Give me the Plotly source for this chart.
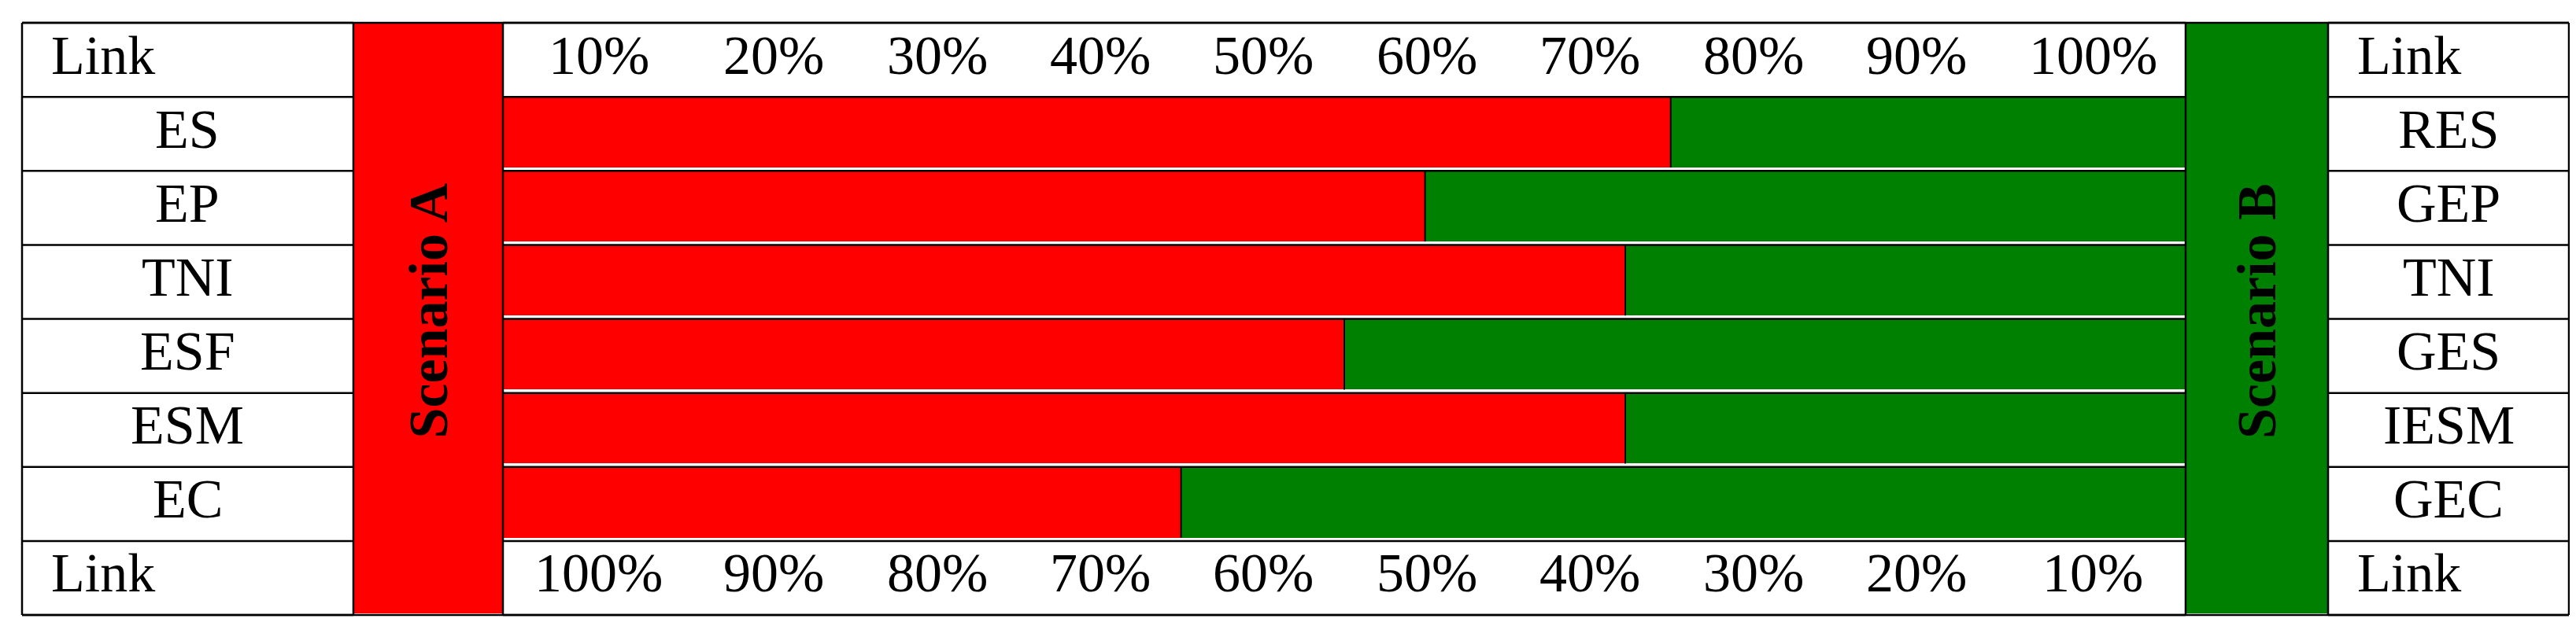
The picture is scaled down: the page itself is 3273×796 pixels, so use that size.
import plotly.graph_objects as go

# data
links_a = ["ES", "EP", "TNI", "ESF", "ESM", "EC"]
links_b = ["RES", "GEP", "TNI", "GES", "IESM", "GEC"]
share_a = [69.4, 54.8, 66.7, 50.0, 66.7, 40.3]
share_b = [30.6, 45.2, 33.3, 50.0, 33.3, 59.7]
top_labels = ["10%", "20%", "30%", "40%", "50%", "60%", "70%", "80%", "90%", "100%"]
bottom_labels = ["100%", "90%", "80%", "70%", "60%", "50%", "40%", "30%", "20%", "10%"]
# where the percent labels sit along the bar scale
label_pos = [5.7, 16.1, 25.8, 35.5, 45.2, 54.9, 64.6, 74.3, 84.0, 94.5]

W, H = 3273, 796
FONT = "Liberation Serif"
RED = "#ff0000"
GREEN = "#008000"

# table grid in pixels
col_x = [20, 441, 631, 2769, 2950, 3256]
top = 21
row_h = (774 - 21) / 8
row_y = [top + i * row_h for i in range(9)]
lift = 6  # text sits a little above the cell centre


def px(x):
    return x / W


def py(y):
    return 1 - y / H


fig = go.Figure()
fig.add_trace(go.Bar(
    y=list(range(len(links_a))), x=share_a, orientation="h",
    marker=dict(color=RED, line=dict(width=0)),
    width=0.955, offset=-0.5, name="Scenario A",
))
fig.add_trace(go.Bar(
    y=list(range(len(links_b))), x=share_b, orientation="h",
    marker=dict(color=GREEN, line=dict(width=0)),
    width=0.955, offset=-0.5, name="Scenario B",
))

shapes = []
# scenario columns
shapes.append(dict(type="rect", xref="paper", yref="paper", layer="below",
                   x0=px(col_x[1]), x1=px(col_x[2]), y0=py(772), y1=py(top),
                   fillcolor=RED, line=dict(width=0)))
shapes.append(dict(type="rect", xref="paper", yref="paper", layer="below",
                   x0=px(col_x[3]), x1=px(col_x[4]), y0=py(772), y1=py(top),
                   fillcolor=GREEN, line=dict(width=0)))

# horizontal row lines in the three text/bar columns
for y in row_y:
    for a, b in [(0, 1), (2, 3), (4, 5)]:
        shapes.append(dict(type="line", xref="paper", yref="paper",
                           x0=px(col_x[a]), x1=px(col_x[b]), y0=py(y), y1=py(y),
                           line=dict(color="black", width=2.5)))
# outer top / bottom border
for y in (row_y[0], row_y[-1]):
    shapes.append(dict(type="line", xref="paper", yref="paper",
                       x0=px(col_x[0]), x1=px(col_x[-1]), y0=py(y), y1=py(y),
                       line=dict(color="black", width=2.5)))
# vertical lines
for x in col_x:
    shapes.append(dict(type="line", xref="paper", yref="paper",
                       x0=px(x), x1=px(x), y0=py(row_y[-1]), y1=py(row_y[0]),
                       line=dict(color="black", width=2.5)))
# divider between the red and green part of every bar
for i, v in enumerate(share_a):
    shapes.append(dict(type="line", xref="x", yref="y",
                       x0=v, x1=v, y0=i - 0.5, y1=i + 0.455,
                       line=dict(color="black", width=2)))

ann = []
fs = 70
for i, name in enumerate(links_a):
    ann.append(dict(text=name, xref="paper", yref="y",
                    x=px((col_x[0] + col_x[1]) / 2), y=i, yshift=lift,
                    xanchor="center", yanchor="middle", showarrow=False))
for i, name in enumerate(links_b):
    ann.append(dict(text=name, xref="paper", yref="y",
                    x=px((col_x[4] + col_x[5]) / 2), y=i, yshift=lift,
                    xanchor="center", yanchor="middle", showarrow=False))
for x0 in (col_x[0], col_x[4]):
    for yc in ((row_y[0] + row_y[1]) / 2, (row_y[7] + row_y[8]) / 2):
        ann.append(dict(text="Link", xref="paper", yref="paper",
                        x=px(x0 + 35), y=py(yc - lift),
                        xanchor="left", yanchor="middle", showarrow=False))
for pos, t in zip(label_pos, top_labels):
    ann.append(dict(text=t, xref="x", yref="paper", x=pos,
                    y=py((row_y[0] + row_y[1]) / 2 - lift),
                    xanchor="center", yanchor="middle", showarrow=False))
for pos, t in zip(label_pos, bottom_labels):
    ann.append(dict(text=t, xref="x", yref="paper", x=pos,
                    y=py((row_y[7] + row_y[8]) / 2 - lift),
                    xanchor="center", yanchor="middle", showarrow=False))
mid_y = (row_y[0] + row_y[-1]) / 2 - 10
ann.append(dict(text="<b>Scenario A</b>", xref="paper", yref="paper",
                x=px((col_x[1] + col_x[2]) / 2), y=py(mid_y), textangle=-90,
                xanchor="center", yanchor="middle", showarrow=False))
ann.append(dict(text="<b>Scenario B</b>", xref="paper", yref="paper",
                x=px((col_x[3] + col_x[4]) / 2), y=py(mid_y), textangle=-90,
                xanchor="center", yanchor="middle", showarrow=False))

fig.update_layout(
    width=W, height=H,
    margin=dict(l=0, r=0, t=0, b=0),
    paper_bgcolor="white", plot_bgcolor="white",
    barmode="stack", bargap=0, showlegend=False,
    font=dict(family=FONT, size=fs, color="black"),
    shapes=shapes, annotations=ann,
    xaxis=dict(domain=[px(col_x[2]), px(col_x[3])], range=[0, 100],
               showgrid=False, zeroline=False, showticklabels=False,
               showline=False, fixedrange=True),
    yaxis=dict(domain=[py(row_y[7]), py(row_y[1])], range=[5.5, -0.5],
               showgrid=False, zeroline=False, showticklabels=False,
               showline=False, fixedrange=True),
)

fig.write_html("out.html")
